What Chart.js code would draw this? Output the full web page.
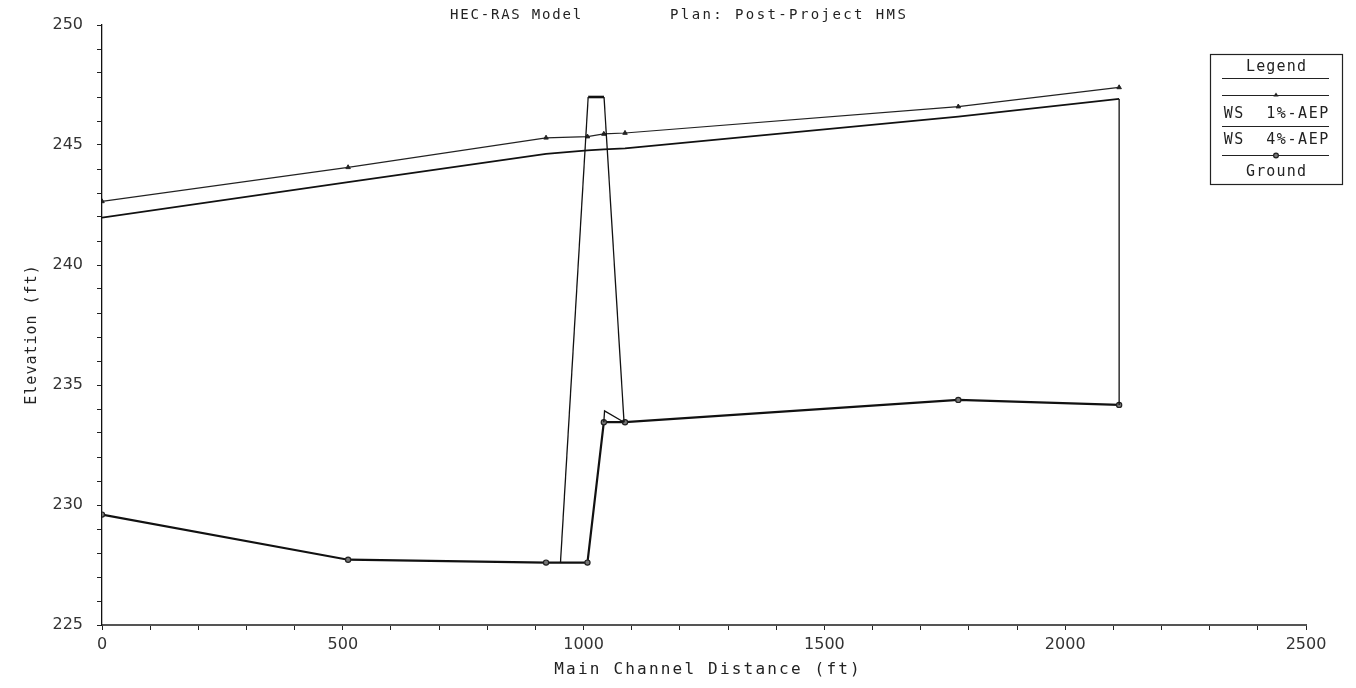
<!DOCTYPE html>
<html>
<head>
<meta charset="utf-8">
<script src="https://cdn.jsdelivr.net/npm/chart.js@4/dist/chart.umd.min.js"></script>
<style>
html, body { margin: 0; padding: 0; background: #fff; }
#wrap { width: 1356px; height: 688px; position: relative; }
</style>
</head>
<body>
<div id="wrap"><canvas id="profile"></canvas></div>
<script>
// river stations (ft) used by every profile
const stations = [0, 511, 922, 1008, 1042, 1086, 1778, 2112];
const ws1 = [242.65, 244.07, 245.30, 245.35, 245.46, 245.50, 246.60, 247.40];
const ws4 = [241.97, 243.45, 244.63, 244.78, 244.82, 244.86, 246.18, 246.92];
const ground = [229.6, 227.72, 227.6, 227.6, 233.45, 233.45, 234.38, 234.17];

// bridge outline and end wall, null splits the pieces
const bridgeX = [952, 1009.5, null, 1042.4, 1084, null, 1042, 1043.5, 1084, null, 2112, 2112];
const bridgeY = [227.6, 247.0, null, 247.0, 233.45, null, 233.45, 233.92, 233.45, null, 234.17, 246.92];
const deckX = [1009.5, 1042.4];
const deckY = [247.0, 247.0];

const legendLabels = ['WS  1%-AEP', 'WS  4%-AEP', 'Ground'];
const titleLeft = 'HEC-RAS Model';
const titleRight = 'Plan: Post-Project HMS';
const xTitle = 'Main Channel Distance (ft)';
const yTitle = 'Elevation (ft)';

const FONT = '"DejaVu Sans", sans-serif';
const MONO = '"DejaVu Sans Mono", monospace';

const pts = (xs, ys) => xs.map((x, i) => ({ x: x, y: ys[i] }));

// split on nulls so each piece becomes its own line
const pieces = (xs, ys) => {
    const out = [];
    let cur = [];
    xs.forEach((x, i) => {
        if (x === null) {
            if (cur.length) out.push(cur);
            cur = [];
        } else {
            cur.push({ x: x, y: ys[i] });
        }
    });
    if (cur.length) out.push(cur);
    return out;
};

const datasets = [];
pieces(bridgeX, bridgeY).forEach((p) => {
    datasets.push({ label: 'bridge', data: p, borderColor: '#111', borderWidth: 1.3, pointRadius: 0 });
});
datasets.push({ label: 'deck', data: pts(deckX, deckY), borderColor: '#111', borderWidth: 2.6, pointRadius: 0 });
datasets.push({
    label: 'Ground', data: pts(stations, ground),
    borderColor: '#111', borderWidth: 2.2,
    pointStyle: 'circle', pointRadius: 2.6, pointBackgroundColor: '#777', pointBorderColor: '#222', pointBorderWidth: 1.2,
});
datasets.push({
    label: 'WS 4%-AEP', data: pts(stations, ws4),
    borderColor: '#111', borderWidth: 1.8, pointRadius: 0,
});
datasets.push({
    label: 'WS 1%-AEP', data: pts(stations, ws1),
    borderColor: '#222', borderWidth: 1.2,
    pointStyle: 'triangle', pointRadius: 2.6, pointBackgroundColor: '#222', pointBorderColor: '#222', pointBorderWidth: 1,
});

// draws text with extra tracking; centred text is shifted back by half the trailing gap
const spaced = (ctx, text, x, y, spacing) => {
    ctx.letterSpacing = spacing + 'px';
    const shift = ctx.textAlign === 'center' ? spacing / 2 : 0;
    ctx.fillText(text, x + shift, y);
    ctx.letterSpacing = '0px';
};

const decor = {
    id: 'decor',
    afterDraw(chart) {
        const ctx = chart.ctx;
        ctx.save();
        ctx.fillStyle = '#222';
        ctx.strokeStyle = '#222';
        ctx.textBaseline = 'middle';

        // title
        ctx.font = '14px ' + MONO;
        ctx.textAlign = 'left';
        spaced(ctx, titleLeft, 450, 15, 1.8);
        spaced(ctx, titleRight, 670, 15, 2.4);

        // axis titles
        ctx.font = '16px ' + MONO;
        ctx.textAlign = 'center';
        spaced(ctx, xTitle, 707, 670, 2.2);
        ctx.font = '15px ' + MONO;
        ctx.save();
        ctx.translate(32, 335);
        ctx.rotate(-Math.PI / 2);
        spaced(ctx, yTitle, 0, 0, 1.0);
        ctx.restore();

        // legend box
        ctx.lineWidth = 1.2;
        ctx.strokeRect(1210.5, 54.5, 132, 130);
        ctx.font = '15px ' + MONO;
        const cx = 1276;
        spaced(ctx, 'Legend', cx, 67, 1.2);
        const line = (y) => {
            ctx.beginPath();
            ctx.moveTo(1222, y);
            ctx.lineTo(1329, y);
            ctx.stroke();
        };
        line(78.5);
        line(95.5);
        // triangle marker
        ctx.beginPath();
        ctx.moveTo(cx, 92.5);
        ctx.lineTo(cx + 2.6, 96.5);
        ctx.lineTo(cx - 2.6, 96.5);
        ctx.closePath();
        ctx.fill();
        spaced(ctx, legendLabels[0], cx, 114, 1.6);
        line(126.5);
        spaced(ctx, legendLabels[1], cx, 140, 1.6);
        line(155.5);
        ctx.beginPath();
        ctx.arc(cx, 155.5, 2.4, 0, Math.PI * 2);
        ctx.fillStyle = '#777';
        ctx.fill();
        ctx.stroke();
        ctx.fillStyle = '#222';
        spaced(ctx, legendLabels[2], cx, 172, 1.2);
        ctx.restore();
    },
};

new Chart(document.getElementById('profile'), {
    type: 'scatter',
    data: { datasets: datasets },
    options: {
        responsive: true,
        maintainAspectRatio: false,
        animation: false,
        showLine: true,
        layout: { padding: { top: 25, right: 50, left: 0, bottom: 0 } },
        plugins: { legend: { display: false }, tooltip: { enabled: false } },
        elements: { line: { tension: 0 } },
        scales: {
            x: {
                type: 'linear', min: 0, max: 2500,
                afterFit: (s) => { s.height = 63; },
                border: { color: '#555', width: 2 },
                grid: { drawOnChartArea: false, drawTicks: true, tickLength: 5, color: '#222', tickWidth: 1 },
                ticks: {
                    stepSize: 100, autoSkip: false, maxRotation: 0, padding: 5,
                    color: '#333', font: { family: FONT, size: 16 },
                    callback: (v) => (v % 500 === 0 ? String(v) : ''),
                },
            },
            y: {
                type: 'linear', min: 225, max: 250,
                afterFit: (s) => { s.width = 102; },
                border: { color: '#111', width: 1.3 },
                grid: { drawOnChartArea: false, drawTicks: true, tickLength: 5, color: '#222', tickWidth: 1 },
                ticks: {
                    stepSize: 1, autoSkip: false, padding: 14,
                    color: '#333', font: { family: FONT, size: 16 },
                    callback: (v) => (v % 5 === 0 ? String(v) : ''),
                },
            },
        },
    },
    plugins: [decor],
});
</script>
</body>
</html>
